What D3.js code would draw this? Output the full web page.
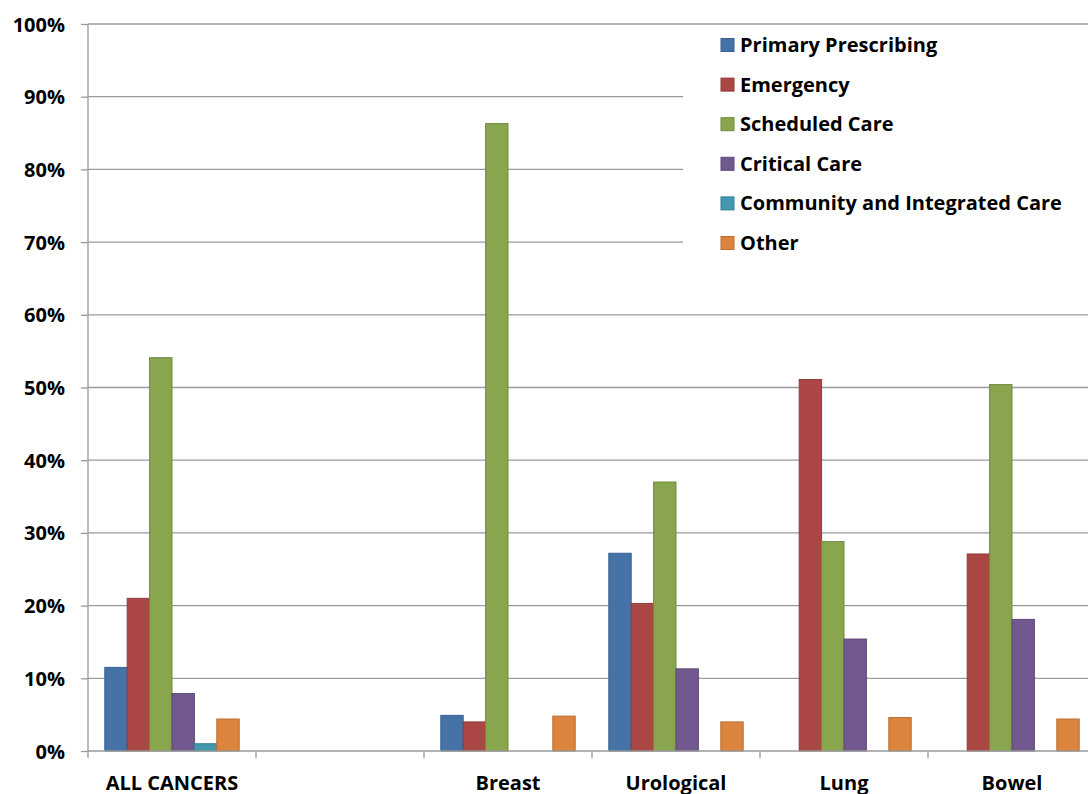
<!DOCTYPE html>
<html>
<head>
<meta charset="utf-8">
<script src="https://cdn.jsdelivr.net/npm/d3@7"></script>
<style>
  html, body { margin: 0; padding: 0; background: #fff; }
  svg { display: block; }
  text { font-family: "Open Sans", Lato, sans-serif; font-weight: bold; fill: #000; }
</style>
</head>
<body>
<svg id="chart" width="1088" height="794"></svg>
<script>
// Share of spend by setting, per cancer group
const categories = ["ALL CANCERS", "", "Breast", "Urological", "Lung", "Bowel"];
const seriesNames = ["Primary Prescribing", "Emergency", "Scheduled Care", "Critical Care", "Community and Integrated Care", "Other"];
const primaryPrescribing = [11.5, 0, 4.9, 27.2, 0, 0];
const emergency          = [21.0, 0, 4.0, 20.3, 51.1, 27.1];
const scheduledCare      = [54.1, 0, 86.3, 37.0, 28.8, 50.4];
const criticalCare       = [7.9, 0, 0, 11.3, 15.4, 18.1];
const communityCare      = [1.0, 0, 0, 0, 0, 0];
const other              = [4.4, 0, 4.8, 4.0, 4.6, 4.4];
const yTicks = [0, 10, 20, 30, 40, 50, 60, 70, 80, 90, 100];

const fills   = ["#4572A7", "#AA4643", "#89A54E", "#71588F", "#4198AF", "#DB843D"];
const strokes = ["#3A6190", "#923B39", "#6F8A3E", "#5E4978", "#347E92", "#B96E32"];

const seriesValues = [primaryPrescribing, emergency, scheduledCare, criticalCare, communityCare, other];

const svg = d3.select("#chart");
const plotLeft = 88, plotTop = 24, plotBottom = 751, bandW = 168;
const plotRight = plotLeft + bandW * categories.length;
const fontSize = "20px";

const x = d3.scaleBand().domain(d3.range(categories.length)).range([plotLeft, plotRight]).padding(0);
// six bars per group with a quarter-group gap split around them
const inner = d3.scaleBand().domain(d3.range(seriesNames.length))
  .range([0, x.bandwidth()]).paddingInner(0).paddingOuter(0.75);
const y = d3.scaleLinear().domain([0, 100]).range([plotBottom, plotTop]);

// Gridlines
svg.append("g").selectAll("line").data(yTicks.filter(d => d > 0)).join("line")
  .attr("x1", plotLeft).attr("x2", plotRight)
  .attr("y1", d => y(d)).attr("y2", d => y(d))
  .attr("stroke", "#9a9a9a").attr("stroke-width", 1.3);

// Legend background covers the gridlines behind it
const legendX = 683, legendY = 25;
svg.append("rect").attr("x", legendX).attr("y", legendY).attr("width", 1088 - legendX).attr("height", 240)
  .attr("fill", "#fff");

// Bars
const rows = [];
categories.forEach((c, i) => seriesValues.forEach((vals, s) => {
  if (vals[i] > 0) rows.push({ i, s, v: vals[i] });
}));
svg.append("g").selectAll("rect").data(rows).join("rect")
  .attr("x", d => x(d.i) + inner(d.s))
  .attr("y", d => y(d.v))
  .attr("width", inner.bandwidth())
  .attr("height", d => plotBottom - y(d.v))
  .attr("fill", d => fills[d.s])
  .attr("stroke", d => strokes[d.s])
  .attr("stroke-width", 1);

// Y axis
const yAxis = svg.append("g").attr("transform", `translate(${plotLeft},0)`)
  .call(d3.axisLeft(y).tickValues(yTicks).tickFormat(d => d + "%").tickSize(7).tickPadding(16));
yAxis.select(".domain").attr("stroke", "#9a9a9a").attr("stroke-width", 1.3).attr("d", `M0,${plotTop}V${plotBottom}`);
yAxis.selectAll(".tick line").attr("stroke", "#9a9a9a").attr("stroke-width", 1.3);
yAxis.selectAll(".tick text").style("font-size", fontSize).attr("fill", "#000").attr("font-family", null).attr("dy", "0.35em");

// X axis
const xAxis = svg.append("g").attr("transform", `translate(0,${plotBottom})`);
xAxis.append("line").attr("x1", plotLeft).attr("x2", plotRight).attr("stroke", "#9a9a9a").attr("stroke-width", 1.3);
xAxis.selectAll("line.tk").data(d3.range(categories.length + 1)).join("line").attr("class", "tk")
  .attr("x1", i => plotLeft + i * x.step()).attr("x2", i => plotLeft + i * x.step())
  .attr("y1", 0).attr("y2", 7).attr("stroke", "#9a9a9a").attr("stroke-width", 1.3);
xAxis.selectAll("text").data(categories).join("text")
  .attr("x", (d, i) => x(i) + x.bandwidth() / 2)
  .attr("y", 39)
  .attr("text-anchor", "middle")
  .style("font-size", fontSize)
  .text(d => d);

// Legend
const lg = svg.append("g");
seriesNames.forEach((name, s) => {
  const cy = 45 + s * 39.6;
  lg.append("rect").attr("x", 721).attr("y", cy - 6.5).attr("width", 13).attr("height", 13)
    .attr("fill", fills[s]).attr("stroke", strokes[s]).attr("stroke-width", 1);
  lg.append("text").attr("x", 740).attr("y", cy).attr("dy", "0.35em")
    .style("font-size", fontSize).text(name);
});
</script>
</body>
</html>
